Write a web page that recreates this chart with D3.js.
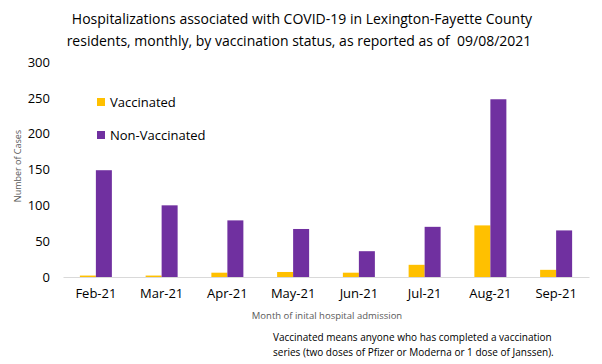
<!DOCTYPE html>
<html><head><meta charset="utf-8">
<script src="https://cdn.jsdelivr.net/npm/d3@7"></script>
<style>body{margin:0;background:#fff;} svg{display:block;font-family:"Open Sans","Liberation Sans",sans-serif;}</style>
</head><body>
<script>
const categories = ["Feb-21","Mar-21","Apr-21","May-21","Jun-21","Jul-21","Aug-21","Sep-21"];
const vaccinated = [2, 2, 6, 7, 6, 17, 72, 10];
const nonVaccinated = [149, 100, 79, 67, 36, 70, 248, 65];
const seriesNames = ["Vaccinated","Non-Vaccinated"];
const colors = ["#FFC000","#7030A0"];
const yTicks = [0,50,100,150,200,250,300];

const W=602,H=364;
const svg=d3.select("body").append("svg").attr("width",W).attr("height",H);
const x=d3.scaleBand().domain(categories).range([63,589]).paddingInner(0).paddingOuter(0);
const x1=d3.scaleBand().domain(seriesNames).range([x.bandwidth()/2-16,x.bandwidth()/2+16]);
const y=d3.scaleLinear().domain([0,300]).range([277,62]);

// title
svg.append("text").attr("x",302).attr("y",24).attr("text-anchor","middle").attr("font-size",14).attr("fill","#000")
 .text("Hospitalizations associated with COVID-19 in Lexington-Fayette County");
svg.append("text").attr("x",299).attr("y",46).attr("text-anchor","middle").attr("font-size",14).attr("fill","#000")
 .style("white-space","pre")
 .text("residents, monthly, by vaccination status, as reported as of  09/08/2021");

// y axis
const ya=svg.append("g").attr("transform","translate(50,0)").call(d3.axisLeft(y).tickValues(yTicks).tickSize(0).tickPadding(0));
ya.select(".domain").remove();
ya.selectAll("text").attr("font-size",13).attr("fill","#000").attr("font-family","'Open Sans',sans-serif");

// x axis
const xa=svg.append("g").attr("transform","translate(0,277)").call(d3.axisBottom(x).tickSize(0).tickPadding(12));
xa.select(".domain").attr("stroke","#d9d9d9");
xa.selectAll("text").attr("font-size",13).attr("fill","#000").attr("font-family","'Open Sans',sans-serif");

// bars
const data=categories.map((c,i)=>({c,vals:[vaccinated[i],nonVaccinated[i]]}));
const g=svg.selectAll("g.grp").data(data).enter().append("g").attr("class","grp").attr("transform",d=>`translate(${x(d.c)},0)`);
g.selectAll("rect").data(d=>d.vals.map((v,j)=>({v,s:seriesNames[j],j}))).enter().append("rect")
 .attr("x",d=>x1(d.s)).attr("width",x1.bandwidth()).attr("y",d=>y(d.v)).attr("height",d=>y(0)-y(d.v)).attr("fill",d=>colors[d.j]);

// legend
const leg=svg.append("g");
seriesNames.forEach((s,i)=>{
  const yy=102+i*33;
  leg.append("rect").attr("x",97).attr("y",yy-4).attr("width",8).attr("height",8).attr("fill",colors[i]);
  leg.append("text").attr("x",110).attr("y",yy+5).attr("font-size",13).attr("fill","#000").text(s);
});

// axis titles
svg.append("text").attr("transform","translate(21,166) rotate(-90)").attr("text-anchor","middle").attr("font-size",9).attr("fill","#595959").text("Number of Cases");
svg.append("text").attr("x",327).attr("y",319).attr("text-anchor","middle").attr("font-size",9.5).attr("fill","#595959").text("Month of inital hospital admission");

// footnote
svg.append("text").attr("x",273).attr("y",341).attr("font-size",10).attr("fill","#000").text("Vaccinated means anyone who has completed a vaccination");
svg.append("text").attr("x",273).attr("y",356).attr("font-size",10).attr("fill","#000").text("series (two doses of Pfizer or Moderna or 1 dose of Janssen).");
</script>
</body></html>
